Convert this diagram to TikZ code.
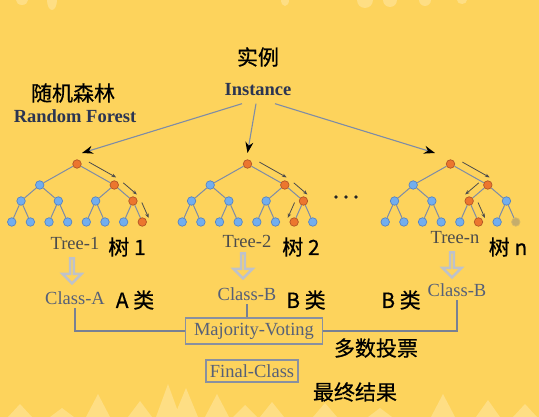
\documentclass[tikz,border=0pt]{standalone}
\usepackage{fontspec}
\setmainfont{Liberation Serif}
\newfontfamily\cjk[FakeBold=0.6]{Noto Sans CJK SC}
\usetikzlibrary{
  arrows.meta,
  positioning,
  calc,
  shapes.arrows
}
\definecolor{bgyellow}{RGB}{253,211,92}
\definecolor{bglight}{RGB}{254,222,132}
\definecolor{leafblue}{RGB}{114,174,238}
\definecolor{leafedge}{RGB}{86,132,196}
\definecolor{hotorange}{RGB}{236,118,46}
\definecolor{hotedge}{RGB}{178,86,38}
\definecolor{branch}{RGB}{126,140,166}
\definecolor{navy}{RGB}{43,53,82}
\definecolor{slate}{RGB}{86,96,120}
\definecolor{hollow}{RGB}{190,194,202}

% one decision tree: #1 name prefix, #2 centre x
\newcommand{\drawtree}[2]{%
  \foreach \k/\dx/\y in {1/0/164, 2/-2/185, 3/2/185, 4/-3/201, 5/-1/201,
      6/1/201, 7/3/201, 8/-3.5/222, 9/-2.5/222, 10/-1.5/222, 11/-0.5/222,
      12/0.5/222, 13/1.5/222, 14/2.5/222, 15/3.5/222}
    \node[treenode, #1-\k/.try] (#1-\k) at ({#2+\dx*18.65}, \y) {};
  \foreach \k in {2,...,15} {
    \pgfmathtruncatemacro\up{\k/2}
    \draw[branchline] (#1-\up) -- (#1-\k);
  }%
}
% small arrow running beside a tree edge: #1 from, #2 to, #3 side
\newcommand{\pathhint}[3]{%
  \draw[hintarrow] ($(#1)!0.22!(#2)!7.5pt!#3:(#2)$) -- ($(#1)!0.95!(#2)!7.5pt!#3:(#2)$);%
}

\begin{document}
\begin{tikzpicture}[
  x=1pt, y=-1pt,
  latin/.style={font=\fontsize{18.5pt}{20pt}\selectfont},
  hanzi/.style={font=\cjk\fontsize{21pt}{24pt}\selectfont, text=black},
  treenode/.style={circle, draw=leafedge, fill=leafblue, line width=0.7pt,
                minimum size=8.5pt, inner sep=0pt},
  hot/.style={draw=hotedge, fill=hotorange},
  faded/.style={draw=gray!30!bgyellow, fill=gray!45!bgyellow},
  branchline/.style={draw=branch, line width=1pt},
  hintarrow/.style={draw=black!70, line width=0.8pt, -{Stealth[length=4.5pt, width=3.5pt]}},
  fanarrow/.style={draw=branch, line width=1.1pt, -{Stealth[length=11pt, width=8pt, color=black]}},
  hollowarrow/.style={single arrow, draw=hollow, line width=2.4pt, shape border rotate=270,
                minimum height=25pt, minimum width=19pt, single arrow head extend=5pt, inner sep=0pt},
  voteline/.style={draw=slate!80, line width=1.2pt},
  votebox/.style={draw=slate!70, line width=1.2pt, latin, text=slate, inner sep=2pt},
  % nodes on the chosen path
  t1-1/.style=hot, t1-3/.style=hot, t1-7/.style=hot, t1-15/.style=hot,
  t2-1/.style=hot, t2-3/.style=hot, t2-7/.style=hot, t2-14/.style=hot,
  tn-1/.style=hot, tn-3/.style=hot, tn-6/.style=hot, tn-13/.style=hot,
  tn-15/.style=faded
]

% background
\fill[bgyellow] (0,0) rectangle (539,417);
\useasboundingbox (0,0) rectangle (539,417);
\foreach \x/\top in {20/404, 62/408, 98/394, 140/401, 168/384, 186/388, 217/394,
    245/405, 272/402, 325/403, 380/408, 443/394, 488/400, 525/404}
  \fill[bglight] (\x,\top) -- (\x-12,417) -- (\x+12,417) -- cycle;
\foreach \x/\w/\h in {22/6/5, 52/5/10, 285/4/6, 365/8/8, 390/7/7, 425/6/6, 462/5/4}
  \fill[bglight] (\x,0) ellipse ({\w} and {\h});

% titles
\node[hanzi] (shili) at (258,57) {实例};
\node[latin, font=\fontsize{18.5pt}{20pt}\selectfont\bfseries, text=navy] (inst) at (258,90) {Instance};
\node[hanzi] (senlin) at (73,93) {随机森林};
\node[latin, font=\fontsize{18.5pt}{20pt}\selectfont\bfseries, text=navy] (rf) at (75,116) {Random Forest};

% trees
\drawtree{t1}{77}
\drawtree{t2}{247.5}
\drawtree{tn}{450.5}
\foreach \i in {0,1,2}
  \fill[black!85] (336+\i*10,197) circle (1.8);

% path hints
\pathhint{t1-1}{t1-3}{90}
\pathhint{t1-3}{t1-7}{90}
\pathhint{t1-7}{t1-15}{90}
\pathhint{t2-1}{t2-3}{90}
\pathhint{t2-3}{t2-7}{90}
\pathhint{t2-7}{t2-14}{-90}
\pathhint{tn-1}{tn-3}{90}
\pathhint{tn-3}{tn-6}{-90}
\pathhint{tn-6}{tn-13}{90}

% instance to trees
\draw[fanarrow] ([xshift=-16pt, yshift=-4pt]inst.south) -- ([xshift=5pt, yshift=11pt]t1-1.center);
\draw[fanarrow] ([xshift=-2pt, yshift=-4pt]inst.south) -- ([yshift=11pt]t2-1.center);
\draw[fanarrow] ([xshift=17pt, yshift=-4pt]inst.south) -- ([xshift=-15.5pt, yshift=11pt]tn-1.center);

% tree labels
\node[latin, text=black!70] (tree1) at (75,243) {Tree-1};
\node[hanzi] (shu1) at (127,247) {树 1};
\node[latin, text=black!70] (tree2) at (247,241) {Tree-2};
\node[hanzi] (shu2) at (301,247) {树 2};
\node[latin, text=black!70] (treen) at (455,238) {Tree-n};
\node[hanzi] (shun) at (508,247) {树 n};

% hollow arrows
\node[hollowarrow] (down1) at (72,270) {};
\node[hollowarrow] (down2) at (243,265) {};
\node[hollowarrow] (downn) at (452,264) {};

% classes
\node[latin, text=slate] (clsA) at (75,298) {Class-A};
\node[hanzi] (leiA) at (135,300) {A 类};
\node[latin, text=slate] (clsB) at (247,294) {Class-B};
\node[hanzi] (leiB) at (306,300) {B 类};
\node[hanzi] (leiBn) at (401,300) {B 类};
\node[latin, text=slate] (clsBn) at (457,290) {Class-B};

% voting
\node[votebox, minimum width=137pt, minimum height=26pt] (vote) at (254,331) {Majority-Voting};
\node[hanzi] (duoshu) at (376,348) {多数投票};
\draw[voteline] (clsA.south) |- (vote.west);
\draw[voteline] (clsB.south) -- (clsB.south |- vote.north);
\draw[voteline] (clsBn.south) |- (vote.east);

\node[votebox, minimum width=92pt, minimum height=22pt] (final) at (252,371) {Final-Class};
\node[hanzi] (zuizhong) at (355,392) {最终结果};

\end{tikzpicture}
\end{document}
